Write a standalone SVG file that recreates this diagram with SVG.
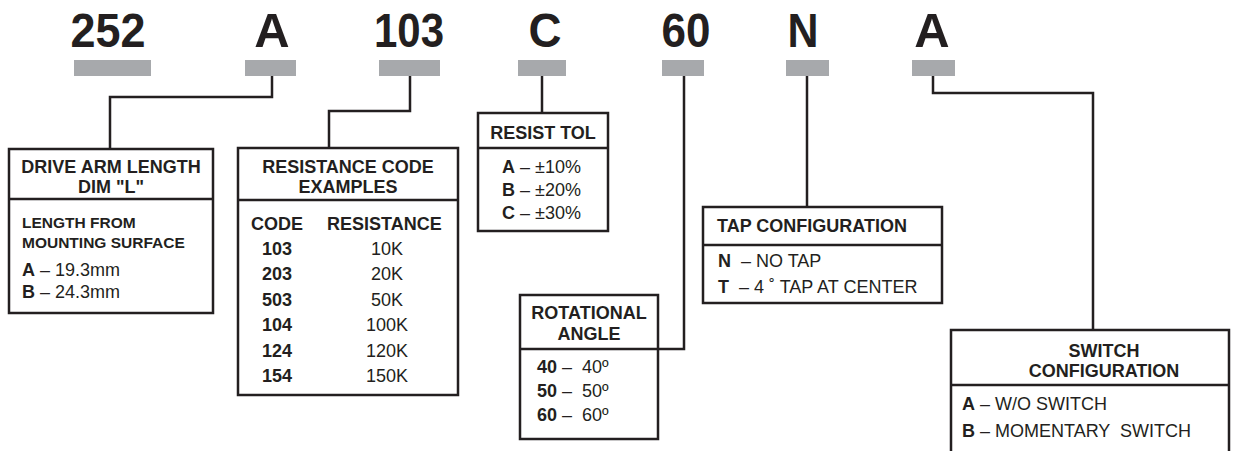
<svg xmlns="http://www.w3.org/2000/svg" width="1237" height="451" viewBox="0 0 1237 451">
<style>
text{font-family:"Liberation Sans",Arial,sans-serif;fill:#231f20}
.big{font-size:49px;font-weight:bold;text-anchor:middle}
.h{font-size:18px;font-weight:bold;text-anchor:middle}
.hl{font-size:18px;font-weight:bold}
.b{font-size:18px}
.bb{font-weight:bold}
.s{font-size:15.5px;font-weight:bold}
.c{text-anchor:middle}
.bar{fill:#a7a9ac}
.box{fill:#fff;stroke:#231f20;stroke-width:2.5}
.ln{fill:none;stroke:#231f20;stroke-width:2.5}
</style>
<rect width="1237" height="451" fill="#fff"/>
<g id="codes">
<text class="big" x="108" y="47" textLength="75" lengthAdjust="spacingAndGlyphs">252</text>
<text class="big" x="272" y="47">A</text>
<text class="big" x="409" y="47" textLength="70" lengthAdjust="spacingAndGlyphs">103</text>
<text class="big" x="545" y="47" textLength="33" lengthAdjust="spacingAndGlyphs">C</text>
<text class="big" x="686" y="47" textLength="49" lengthAdjust="spacingAndGlyphs">60</text>
<text class="big" x="803" y="47" textLength="31" lengthAdjust="spacingAndGlyphs">N</text>
<text class="big" x="932" y="47">A</text>
<rect class="bar" x="74" y="60" width="77" height="16"/>
<rect class="bar" x="245" y="60" width="51" height="16"/>
<rect class="bar" x="379" y="60" width="61" height="16"/>
<rect class="bar" x="518" y="60" width="48" height="16"/>
<rect class="bar" x="662" y="60" width="42" height="16"/>
<rect class="bar" x="786" y="60" width="43" height="16"/>
<rect class="bar" x="912" y="60" width="43" height="16"/>
</g>
<g id="connectors">
<polyline class="ln" points="272,76 272,97 110,97 110,149"/>
<polyline class="ln" points="410,76 410,111 329,111 329,148"/>
<polyline class="ln" points="542,76 542,113"/>
<polyline class="ln" points="684,76 684,349 658,349"/>
<polyline class="ln" points="807,76 807,207"/>
<polyline class="ln" points="933,76 933,93 1093,93 1093,330"/>
</g>
<g id="drive-arm">
<rect class="box" x="9" y="149" width="204" height="164"/>
<line class="ln" x1="9" y1="199" x2="213" y2="199"/>
<text class="h" x="111" y="173">DRIVE ARM LENGTH</text>
<text class="h" x="111" y="193">DIM "L"</text>
<text class="s" x="22" y="228">LENGTH FROM</text>
<text class="s" x="22" y="248">MOUNTING SURFACE</text>
<text class="b" x="22" y="276"><tspan class="bb">A</tspan> – 19.3mm</text>
<text class="b" x="22" y="298"><tspan class="bb">B</tspan> – 24.3mm</text>
</g>
<g id="resistance">
<rect class="box" x="238" y="148" width="220" height="247"/>
<line class="ln" x1="238" y1="200" x2="458" y2="200"/>
<text class="h" x="348" y="173">RESISTANCE CODE</text>
<text class="h" x="348" y="193">EXAMPLES</text>
<text class="hl" x="251" y="230">CODE</text>
<text class="hl" x="327" y="230">RESISTANCE</text>
<text class="b bb" x="262" y="255">103</text><text class="b c" x="387" y="255">10K</text>
<text class="b bb" x="262" y="280">203</text><text class="b c" x="387" y="280">20K</text>
<text class="b bb" x="262" y="306">503</text><text class="b c" x="387" y="306">50K</text>
<text class="b bb" x="262" y="331">104</text><text class="b c" x="387" y="331">100K</text>
<text class="b bb" x="262" y="357">124</text><text class="b c" x="387" y="357">120K</text>
<text class="b bb" x="262" y="382">154</text><text class="b c" x="387" y="382">150K</text>
</g>
<g id="resist-tol">
<rect class="box" x="478" y="113" width="130" height="118"/>
<line class="ln" x1="478" y1="148" x2="608" y2="148"/>
<text class="h" x="543" y="139">RESIST TOL</text>
<text class="b" x="502" y="173"><tspan class="bb">A</tspan> – ±10%</text>
<text class="b" x="502" y="196"><tspan class="bb">B</tspan> – ±20%</text>
<text class="b" x="502" y="219"><tspan class="bb">C</tspan> – ±30%</text>
</g>
<g id="rotational">
<rect class="box" x="520" y="295" width="138" height="144"/>
<line class="ln" x1="520" y1="349" x2="658" y2="349"/>
<text class="h" x="589" y="319">ROTATIONAL</text>
<text class="h" x="589" y="340">ANGLE</text>
<text class="b" x="537" y="373"><tspan class="bb">40</tspan> – &#160;40º</text>
<text class="b" x="537" y="397"><tspan class="bb">50</tspan> – &#160;50º</text>
<text class="b" x="537" y="421"><tspan class="bb">60</tspan> – &#160;60º</text>
</g>
<g id="tap">
<rect class="box" x="703" y="207" width="239" height="96"/>
<line class="ln" x1="703" y1="245" x2="942" y2="245"/>
<text class="hl" x="717" y="232">TAP CONFIGURATION</text>
<text class="b" x="718" y="267"><tspan class="bb">N</tspan> &#160;– NO TAP</text>
<text class="b" x="718" y="293"><tspan class="bb">T</tspan> &#160;– 4 ˚ TAP AT CENTER</text>
</g>
<g id="switch">
<path class="ln" d="M951,455 V330 H1229 V455"/>
<line class="ln" x1="951" y1="385" x2="1229" y2="385"/>
<text class="h" x="1104" y="357">SWITCH</text>
<text class="h" x="1104" y="377">CONFIGURATION</text>
<text class="b" x="962" y="410"><tspan class="bb">A</tspan> – W/O SWITCH</text>
<text class="b" x="962" y="437"><tspan class="bb">B</tspan> – MOMENTARY &#160;SWITCH</text>
</g>
</svg>
